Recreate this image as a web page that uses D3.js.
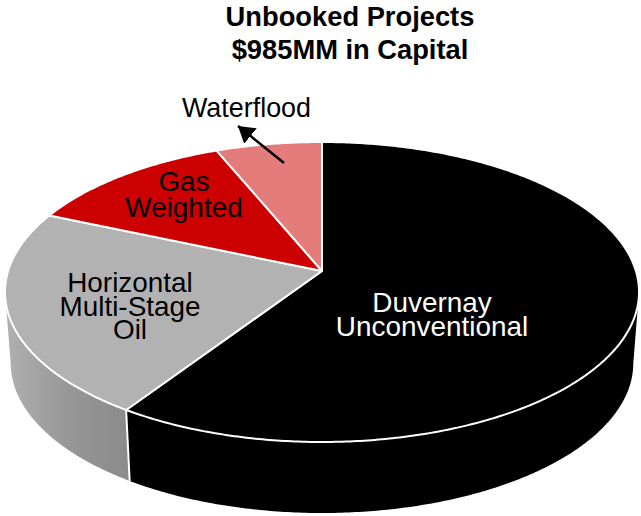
<!DOCTYPE html>
<html>
<head>
<meta charset="utf-8">
<script src="https://cdn.jsdelivr.net/npm/d3@7"></script>
<style>
  html, body { margin: 0; padding: 0; background: #fff; }
  text { font-family: "Liberation Sans", Arial, sans-serif; }
</style>
</head>
<body>
<svg id="chart" width="641" height="516"></svg>
<script>
// Capital by project type, $MM
const projects = ['Duvernay Unconventional', 'Horizontal Multi-Stage Oil', 'Gas Weighted', 'Waterflood'];
const capital = [584, 219, 121, 61];
const titleLines = ['Unbooked Projects', '$985MM in Capital'];

const topColors = ['#000000', '#b2b2b2', '#cc0000', '#e57c7c'];

const svg = d3.select('#chart');

// the pie is tilted with a bit of perspective, so the apex sits above the ellipse centre
const cx = 322, apexY = 271;
const persp = 0.14, yK = -109.12, radius = 313.9;
const depth = 71, bottomShrink = 0.982;

function project(angle) {
    // angle is clockwise from 12 o'clock, like d3.pie
    const u = Math.sin(angle), v = Math.cos(angle);
    const w = 1 + persp * v;
    return [cx + radius * u / w, (yK * v + apexY) / w];
}
function projectBottom(angle) {
    const p = project(angle);
    return [cx + (p[0] - cx) * bottomShrink, p[1] + depth];
}

const pie = d3.pie().sort(null).value(d => d);
const slices = pie(capital);
const line = d3.line();

function arcPoints(a0, a1, fn) {
    const n = Math.max(2, Math.ceil(Math.abs(a1 - a0) / 0.01));
    return d3.range(n + 1).map(i => fn(a0 + (a1 - a0) * i / n));
}

const defs = svg.append('defs');
const grad = defs.append('linearGradient')
    .attr('id', 'oilWall')
    .attr('gradientUnits', 'userSpaceOnUse')
    .attr('x1', 6).attr('x2', 128).attr('y1', 0).attr('y2', 0);
grad.append('stop').attr('offset', '0%').attr('stop-color', '#b0b0b0');
grad.append('stop').attr('offset', '50%').attr('stop-color', '#979797');
grad.append('stop').attr('offset', '100%').attr('stop-color', '#8b8b8b');

// side walls, only the front part of the rim can be seen
const wallFrom = Math.PI / 2 + Math.asin(persp);
const wallTo = 2 * Math.PI - wallFrom;
const walls = svg.append('g');
slices.forEach((s, i) => {
    const a0 = Math.max(s.startAngle, wallFrom);
    const a1 = Math.min(s.endAngle, wallTo);
    if (a1 <= a0) return;
    const pts = arcPoints(a0, a1, project).concat(arcPoints(a1, a0, projectBottom));
    walls.append('path')
        .attr('d', line(pts) + 'Z')
        .attr('fill', i === 1 ? 'url(#oilWall)' : topColors[i]);
});

// white seam between the two walls
const seamAngle = slices[1].startAngle;
walls.append('path')
    .attr('d', line([project(seamAngle), projectBottom(seamAngle)]))
    .attr('stroke', '#fff')
    .attr('stroke-width', 2)
    .attr('fill', 'none');

// top face
svg.append('g').selectAll('path')
    .data(slices)
    .enter()
    .append('path')
    .attr('d', d => line([[cx, apexY]].concat(arcPoints(d.startAngle, d.endAngle, project))) + 'Z')
    .attr('fill', (d, i) => topColors[i])
    .attr('stroke', '#fff')
    .attr('stroke-width', 2)
    .attr('stroke-linejoin', 'round');

// title
svg.append('g').selectAll('text')
    .data(titleLines)
    .enter()
    .append('text')
    .attr('x', 350)
    .attr('y', (d, i) => 26 + i * 33)
    .attr('text-anchor', 'middle')
    .attr('font-size', 27.3)
    .attr('font-weight', 'bold')
    .attr('fill', '#000')
    .text(d => d);

// slice labels, broken over lines by hand as in the original
const labelBlocks = [
    { lines: ['Duvernay', 'Unconventional'], x: 432, y: 312, step: 24, size: 27.9, fill: '#fff' },
    { lines: ['Horizontal', 'Multi-Stage', 'Oil'], x: 130, y: 292, step: 23.7, size: 27.9, fill: '#000' },
    { lines: ['Gas', 'Weighted'], x: 184, y: 191, step: 26, size: 27.9, fill: '#000' },
    { lines: ['Waterflood'], x: 246.5, y: 117, step: 0, size: 26.9, fill: '#000' }
];
labelBlocks.forEach(b => {
    svg.append('g').selectAll('text')
        .data(b.lines)
        .enter()
        .append('text')
        .attr('x', b.x)
        .attr('y', (d, i) => b.y + i * b.step)
        .attr('text-anchor', 'middle')
        .attr('font-size', b.size)
        .attr('fill', b.fill)
        .text(d => d);
});

// arrow from the waterflood slice up to its label
defs.append('marker')
    .attr('id', 'head')
    .attr('markerUnits', 'userSpaceOnUse')
    .attr('viewBox', '0 0 16 20')
    .attr('refX', 16).attr('refY', 10)
    .attr('markerWidth', 16).attr('markerHeight', 20)
    .attr('orient', 'auto')
    .append('path')
    .attr('d', 'M0,0L16,10L0,20Z')
    .attr('fill', '#000');

svg.append('line')
    .attr('x1', 284).attr('y1', 163)
    .attr('x2', 238).attr('y2', 126)
    .attr('stroke', '#000')
    .attr('stroke-width', 2.5)
    .attr('marker-end', 'url(#head)');
</script>
</body>
</html>
